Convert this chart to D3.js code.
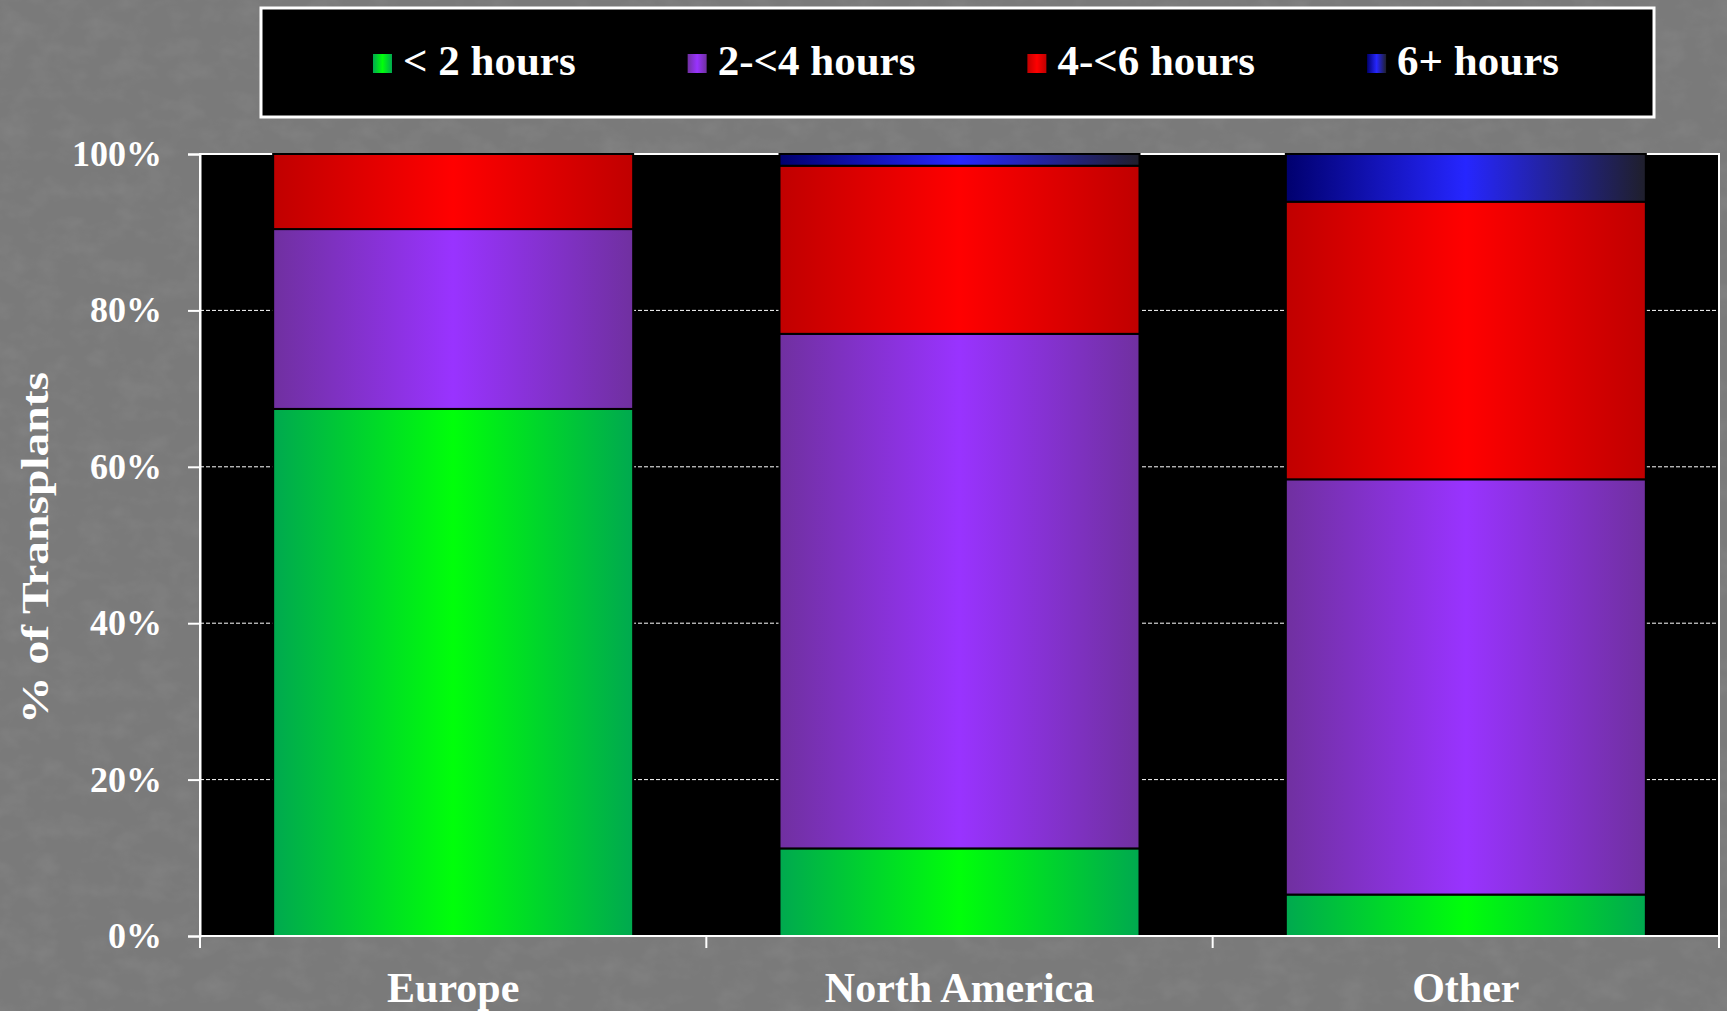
<!DOCTYPE html>
<html>
<head>
<meta charset="utf-8">
<script src="https://cdn.jsdelivr.net/npm/d3@7"></script>
<style>
  html, body { margin: 0; padding: 0; background: #797979; overflow: hidden; }
  svg { display: block; }
</style>
</head>
<body>
<svg id="chart" width="1727" height="1011"></svg>
<script>
// Share of transplants by ischaemic-time band, per region (percent)
const regions = ["Europe", "North America", "Other"];
const seriesNames = ["< 2 hours", "2-<4 hours", "4-<6 hours", "6+ hours"];
const under2h = [67.4, 11.2, 5.3];
const from2to4h = [23.0, 65.8, 53.1];
const from4to6h = [9.6, 21.5, 35.5];
const over6h = [0.0, 1.5, 6.1];
const yTickValues = [0, 20, 40, 60, 80, 100];

// Horizontal "cylinder" shading for each series: edge, centre, edge
const seriesShades = [
  ["#00a94f", "#00ff0a", "#00a94f"],
  ["#7030a0", "#9933ff", "#7030a0"],
  ["#c00000", "#ff0000", "#c00000"],
  ["#00006e", "#2626ff", "#1f1f2b"]
];

const rows = regions.map((r, i) => ({
  region: r,
  [seriesNames[0]]: under2h[i],
  [seriesNames[1]]: from2to4h[i],
  [seriesNames[2]]: from4to6h[i],
  [seriesNames[3]]: over6h[i]
}));

const W = 1727, H = 1011;
const margin = { top: 154, right: 8, bottom: 75, left: 200 };
const innerW = W - margin.left - margin.right;
const innerH = H - margin.top - margin.bottom;
const serif = "'Liberation Serif', 'DejaVu Serif', serif";

const svg = d3.select("#chart");
const defs = svg.append("defs");

// Fine mottled backdrop
const noise = defs.append("filter").attr("id", "grain")
  .attr("x", 0).attr("y", 0).attr("width", "100%").attr("height", "100%");
noise.append("feTurbulence").attr("type", "fractalNoise")
  .attr("baseFrequency", "0.035 0.05").attr("numOctaves", 3).attr("seed", 3).attr("result", "n");
noise.append("feColorMatrix").attr("in", "n").attr("type", "matrix")
  .attr("values", "0 0 0 0 0.5  0 0 0 0 0.5  0 0 0 0 0.5  1.2 0 0 0 -0.5");
svg.append("rect").attr("width", W).attr("height", H).attr("fill", "#7a7a7a");
svg.append("rect").attr("width", W).attr("height", H).attr("filter", "url(#grain)").attr("opacity", 0.18);

seriesShades.forEach((s, i) => {
  const g = defs.append("linearGradient").attr("id", "shade" + i)
    .attr("x1", "0%").attr("x2", "100%").attr("y1", "0%").attr("y2", "0%");
  g.append("stop").attr("offset", "0%").attr("stop-color", s[0]);
  g.append("stop").attr("offset", "50%").attr("stop-color", s[1]);
  g.append("stop").attr("offset", "100%").attr("stop-color", s[2]);
});

const x = d3.scaleBand().domain(regions).range([0, innerW])
  .paddingInner(0.289).paddingOuter(0.1445);
const y = d3.scaleLinear().domain([0, 100]).range([innerH, 0]);

const plot = svg.append("g").attr("transform", `translate(${margin.left},${margin.top})`);

// Plot area
plot.append("rect").attr("width", innerW).attr("height", innerH)
  .attr("fill", "#000").attr("stroke", "#fff").attr("stroke-width", 2);

// Dashed gridlines
plot.append("g").selectAll("line")
  .data(yTickValues.filter(v => v > 0 && v < 100)).join("line")
  .attr("x1", 0).attr("x2", innerW)
  .attr("y1", d => y(d)).attr("y2", d => y(d))
  .attr("stroke", "#fff").attr("stroke-width", 1).attr("stroke-dasharray", "4,2");

// Stacked bars
const stacked = d3.stack().keys(seriesNames)(rows);
plot.append("g").selectAll("g").data(stacked).join("g")
  .attr("fill", (d, i) => `url(#shade${i})`)
  .selectAll("rect").data(d => d.filter(p => p[1] - p[0] > 0)).join("rect")
  .attr("x", d => x(d.data.region))
  .attr("width", x.bandwidth())
  .attr("y", d => y(d[1]))
  .attr("height", d => y(d[0]) - y(d[1]))
  .attr("stroke", "#000").attr("stroke-width", 2);

// Y axis
const yAxis = plot.append("g")
  .call(d3.axisLeft(y).tickValues(yTickValues).tickFormat(d => d + "%")
    .tickSize(12).tickPadding(26));
yAxis.select(".domain").attr("stroke", "#fff").attr("stroke-width", 2);
yAxis.selectAll(".tick line").attr("stroke", "#fff").attr("stroke-width", 2);
yAxis.selectAll(".tick text")
  .attr("fill", "#fff")
  .style("font-family", serif)
  .style("font-weight", "bold").style("font-size", "36px");

// X axis: labels at band centres, ticks at band boundaries
const xAxis = plot.append("g").attr("transform", `translate(0,${innerH})`)
  .call(d3.axisBottom(x).tickSize(0).tickPadding(0));
xAxis.select(".domain").remove();
xAxis.selectAll(".tick text")
  .attr("y", 66).attr("dy", 0)
  .attr("fill", "#fff")
  .style("font-family", serif)
  .style("font-weight", "bold").style("font-size", "42px");
plot.append("line")
  .attr("x1", 0).attr("x2", innerW).attr("y1", innerH).attr("y2", innerH)
  .attr("stroke", "#fff").attr("stroke-width", 2);
const bounds = d3.range(regions.length + 1).map(i => i * x.step());
plot.append("g").selectAll("line").data(bounds).join("line")
  .attr("x1", d => d).attr("x2", d => d)
  .attr("y1", innerH).attr("y2", innerH + 12)
  .attr("stroke", "#fff").attr("stroke-width", 2);

// Y axis title
svg.append("text")
  .attr("transform", `translate(48,${margin.top + innerH / 2 + 3}) rotate(-90)`)
  .attr("text-anchor", "middle")
  .attr("fill", "#fff")
  .attr("textLength", 352).attr("lengthAdjust", "spacingAndGlyphs")
  .style("font-family", serif)
  .style("font-weight", "bold").style("font-size", "38px")
  .text("% of Transplants");

// Legend
const legend = svg.append("g");
legend.append("rect")
  .attr("x", 261).attr("y", 8).attr("width", 1393).attr("height", 109)
  .attr("fill", "#000").attr("stroke", "#fff").attr("stroke-width", 3);

const items = legend.selectAll("g.item").data(seriesNames).join("g").attr("class", "item");
items.append("rect")
  .attr("width", 19).attr("height", 19).attr("y", 54)
  .attr("fill", (d, i) => `url(#shade${i})`);
items.append("text")
  .attr("x", 30).attr("y", 75)
  .attr("fill", "#fff")
  .style("font-family", serif)
  .style("font-weight", "bold").style("font-size", "43px")
  .text(d => d);

const gap = 112;
const widths = items.nodes().map(n => 30 + d3.select(n).select("text").node().getComputedTextLength());
const total = d3.sum(widths) + gap * (widths.length - 1);
let cx = 966 - total / 2;
items.each(function (d, i) {
  d3.select(this).attr("transform", `translate(${cx},0)`);
  cx += widths[i] + gap;
});
</script>
</body>
</html>
